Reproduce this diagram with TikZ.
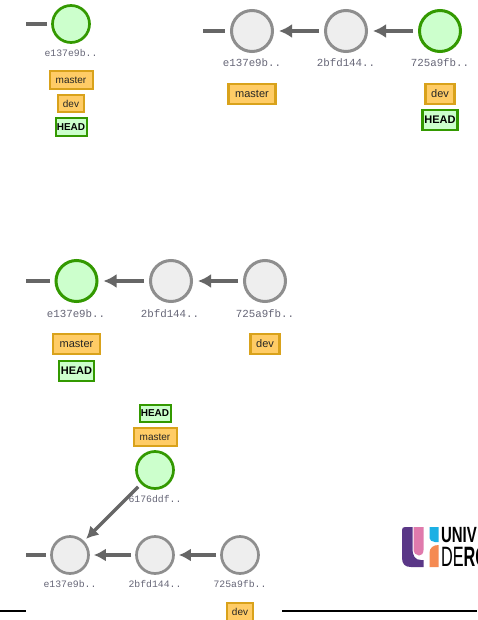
\documentclass[tikz,border=0pt]{standalone}
\usepackage{fontspec}
\setmainfont{Liberation Sans}
\newfontfamily\monof{Liberation Mono}
\usetikzlibrary{arrows.meta}
\definecolor{cgray}{HTML}{8E8E8E}
\definecolor{cfill}{HTML}{EEEEEE}
\definecolor{hgreen}{HTML}{339900}
\definecolor{hfill}{HTML}{CCFFCC}
\definecolor{borange}{HTML}{D9A21B}
\definecolor{bfill}{HTML}{FFCC66}
\definecolor{lnk}{HTML}{666666}
\definecolor{lblc}{HTML}{666677}
\tikzset{
 x=1pt,y=-1pt,
 commitL/.style={circle,draw=cgray,fill=cfill,line width=3pt,minimum size=41pt,inner sep=0pt},
 commitS/.style={circle,draw=cgray,fill=cfill,line width=2.7pt,minimum size=37pt,inner sep=0pt},
 cur/.style={draw=hgreen,fill=hfill},
 lblL/.style={font=\monof\fontsize{10.8}{12}\selectfont,text=lblc,inner sep=0pt},
 lblS/.style={font=\monof\fontsize{9.8}{11}\selectfont,text=lblc,inner sep=0pt},
 brL/.style={draw=borange,fill=bfill,line width=2.2pt,minimum height=20.5pt,inner sep=0pt,font=\fontsize{11}{12}\selectfont,text=black!85},
 brS/.style={draw=borange,fill=bfill,line width=2pt,minimum height=17.5pt,inner sep=0pt,font=\fontsize{10}{11}\selectfont,text=black!85},
 hdL/.style={draw=hgreen,fill=hfill,line width=2.2pt,minimum height=20.5pt,inner sep=0pt,font=\bfseries\fontsize{11}{12}\selectfont,text=black},
 hdS/.style={draw=hgreen,fill=hfill,line width=2pt,minimum height=17.5pt,inner sep=0pt,font=\bfseries\fontsize{10}{11}\selectfont,text=black},
 lnkL/.style={draw=lnk,line width=3.4pt},
 arrL/.style={lnkL,-{Latex[length=13pt,width=14pt]}},
 arrS/.style={lnkL,-{Latex[length=12pt,width=13pt]}},
 rule/.style={draw=black,line width=1.2pt},
}
\begin{document}
\begin{tikzpicture}
\useasboundingbox (0,0) rectangle (477,620);
\clip (0,0) rectangle (477,620);
\fill[white] (0,0) rectangle (477,620);
% panel 1
\coordinate (p1s) at (26,24);
\node[commitS,cur] (p1a) at (71,24) {};
\draw[lnkL] (p1a.west) ++(-4,0) coordinate (p1e) (p1e) -- (p1s);
\node[lblS] (p1l) at (71,53) {e137e9b..};
\node[brS,minimum width=43pt] (p1m) at (71,80) {master};
\node[brS,minimum width=26pt] (p1d) at (71,103.5) {dev};
\node[hdS,minimum width=31pt] (p1h) at (71,127) {HEAD};
% panel 2
\coordinate (p2s) at (203,31);
\node[commitL] (p2a) at (252,31) {};
\node[commitL] (p2b) at (346,31) {};
\node[commitL,cur] (p2c) at (440,31) {};
\draw[lnkL] (p2s) -- ([xshift=-5pt]p2a.west);
\draw[arrL] ([xshift=-5pt]p2b.west) -- ([xshift=5pt]p2a.east);
\draw[arrL] ([xshift=-5pt]p2c.west) -- ([xshift=5pt]p2b.east);
\node[lblL] at (252,63) {e137e9b..};
\node[lblL] at (346,63) {2bfd144..};
\node[lblL] at (440,63) {725a9fb..};
\node[brL,minimum width=47pt] (p2m) at (252,94) {master};
\node[brL,minimum width=29pt] (p2d) at (440,94) {dev};
\node[hdL,minimum width=35pt] (p2h) at (440,120) {HEAD};
% panel 3
\coordinate (p3s) at (26,281);
\node[commitL,cur] (p3a) at (76.5,281) {};
\node[commitL] (p3b) at (171,281) {};
\node[commitL] (p3c) at (265,281) {};
\draw[lnkL] (p3s) -- ([xshift=-5pt]p3a.west);
\draw[arrL] ([xshift=-5pt]p3b.west) -- ([xshift=5pt]p3a.east);
\draw[arrL] ([xshift=-5pt]p3c.west) -- ([xshift=5pt]p3b.east);
\node[lblL] at (76,314) {e137e9b..};
\node[lblL] at (170,314) {2bfd144..};
\node[lblL] at (265,314) {725a9fb..};
\node[brL,minimum width=47pt] (p3m) at (76.5,344) {master};
\node[brL,minimum width=29pt] (p3d) at (265,344) {dev};
\node[hdL,minimum width=35pt] (p3h) at (76.5,371) {HEAD};
% panel 4
\coordinate (p4s) at (26,555);
\node[commitS] (p4a) at (70,555) {};
\node[commitS] (p4b) at (155,555) {};
\node[commitS] (p4c) at (240,555) {};
\node[commitS,cur] (p4n) at (155,470) {};
\node[lblS] at (155,499) {6176ddf..};
\draw[lnkL] (p4s) -- ([xshift=-4pt]p4a.west);
\draw[arrS] ([xshift=-4pt]p4b.west) -- ([xshift=4pt]p4a.east);
\draw[arrS] ([xshift=-4pt]p4c.west) -- ([xshift=4pt]p4b.east);
\draw[arrS,shorten <=4pt,shorten >=3pt] (p4n.225) -- (p4a.45);
\node[lblS] at (70,584) {e137e9b..};
\node[lblS] at (155,584) {2bfd144..};
\node[lblS] at (240,584) {725a9fb..};
\node[hdS,minimum width=31pt] (p4h) at (155,413.5) {HEAD};
\node[brS,minimum width=43pt] (p4m) at (155,437) {master};
\node[brS,minimum width=26pt] (p4d) at (240,612) {dev};
% footer rules
\coordinate (r1a) at (0,611); \coordinate (r1b) at (26,611);
\coordinate (r2a) at (282,611); \coordinate (r2b) at (477,611);
\draw[rule] (r1a) -- (r1b);
\draw[rule] (r2a) -- (r2b);
% logo
\fill[fill={rgb,255:red,90;green,55;blue,135}] (402,530) -- (402,558) .. controls (402,564) and (405,567) .. (411,567) -- (423.5,567) -- (423.5,560) -- (421,560) .. controls (415,560) and (412.5,556) .. (412.5,548) -- (412.5,527) -- (405,527) .. controls (403,527) and (402,528) .. (402,530) -- cycle;
\fill[fill={rgb,255:red,224;green,122;blue,172}] (413.5,527) -- (423.5,527) -- (423.5,550) .. controls (423.5,554) and (421,555.5) .. (419,555.5) .. controls (416,555.5) and (413.5,553) .. (413.5,549) -- cycle;
\fill[fill={rgb,255:red,28;green,176;blue,228}] (429.5,527) -- (438.5,527) -- (438.5,542) -- (435,542) .. controls (432,542) and (429.5,540) .. (429.5,538) -- cycle;
\fill[fill={rgb,255:red,245;green,138;blue,82}] (438.5,545) -- (438.5,567) -- (429.5,567) -- (429.5,553) .. controls (429.5,548) and (433,545) .. (438.5,545) -- cycle;
\begin{scope}[overlay]
\clip (0,0) rectangle (477,620);
\node[anchor=west,inner sep=0pt,font=\bfseries\fontsize{22}{22}\selectfont,xscale=.68,transform shape,draw=none,text=black] (logoa) at (441,535.5) {UNIV};
\node[anchor=west,inner sep=0pt,font=\fontsize{28}{28}\selectfont,xscale=.58,transform shape] (logob) at (441,556.5) {DE\textbf{RO}};
\end{scope}
\end{tikzpicture}
\end{document}
